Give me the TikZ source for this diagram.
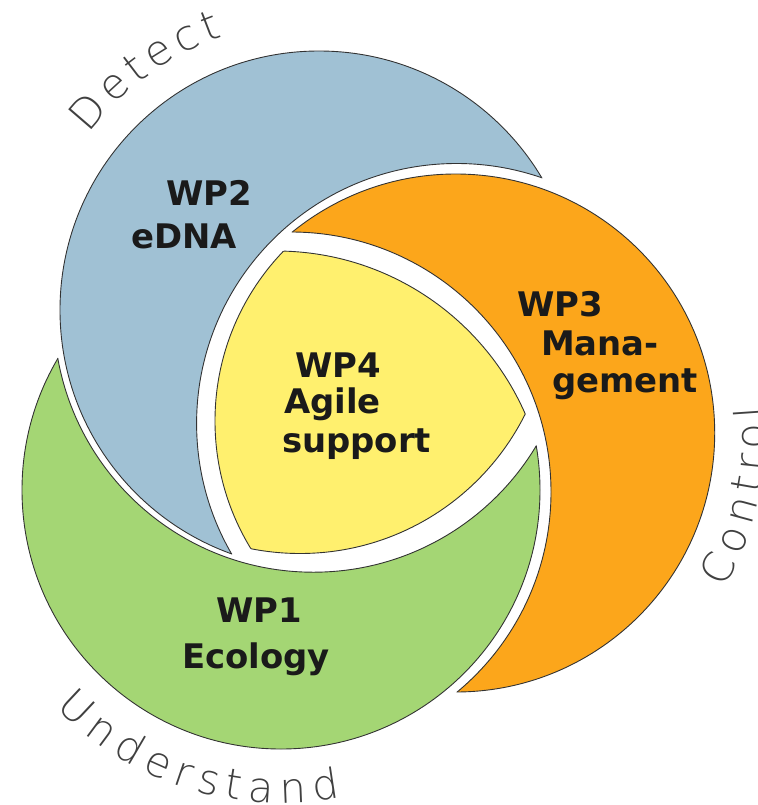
\documentclass[tikz,border=0pt]{standalone}
\usepackage{fontspec}
\setmainfont{DejaVu Sans}
\IfFontExistsTF{DejaVu Sans ExtraLight}{\newfontfamily\thinfont{DejaVu Sans ExtraLight}}{\newfontfamily\thinfont{DejaVu Sans}}
\usetikzlibrary{decorations.text}
\definecolor{edna}{HTML}{A0C1D4}
\definecolor{mgmt}{HTML}{FCA61B}
\definecolor{ecol}{HTML}{A4D674}
\definecolor{agile}{HTML}{FFF06E}
\definecolor{ink}{HTML}{1A1A1A}
\def\thinlbl{\thinfont\fontsize{42}{42}\selectfont}
% crescent: options, outer circle (centre:radius), cut circle (centre:radius)
\def\crescent[#1](#2:#3)(#4:#5){%
	\begin{scope}[even odd rule]
		\clip (-20,20) rectangle (780,-825) (#4) circle (#5);
		\draw[#1] (#2) circle (#3);
	\end{scope}
	\begin{scope}
		\clip (#2) circle (#3);
		\draw[#1, fill=none] (#4) circle (#5);
	\end{scope}}
% edge of the middle piece: circle drawn inside the two others
\def\lensedge(#1:#2)(#3:#4)(#5:#6){%
	\begin{scope}
		\clip (#3) circle (#4);
		\clip (#5) circle (#6);
		\draw[edge] (#1) circle (#2);
	\end{scope}}
\tikzset{
	edge/.style={draw=black!80, line width=0.9},
	wp/.style={font=\bfseries\fontsize{34}{40}\selectfont, text=ink, inner sep=0pt, anchor=base west}
}

\begin{document}
\begin{tikzpicture}[x=1bp, y=1bp]
			%%%%% START %%%%%
			\useasboundingbox (0,0) rectangle (758,-805);
			
			\coordinate (bo) at (319,-310);
			\coordinate (bi) at (456.6,-423.5);
			\coordinate (oo) at (455.7,-433);
			\coordinate (oi) at (291,-492);
			\coordinate (go) at (281,-490);
			\coordinate (gi) at (313.4,-312.6);
			\coordinate (yl) at (460,-421);
			\coordinate (yt) at (276,-523);
			\coordinate (yb) at (300,-302);
			
			% the three rings
			\crescent[edge, fill=edna](bo:259)(bi:260)
			\crescent[edge, fill=mgmt](oo:259)(oi:260)
			\crescent[edge, fill=ecol](go:259)(gi:259.6)
			
			% middle piece
			\begin{scope}
				\clip (yl) circle (245);
				\clip (yt) circle (272);
				\fill[agile] (yb) circle (251.5);
			\end{scope}
			\lensedge(yl:245)(yt:272)(yb:251.5)
			\lensedge(yt:272)(yl:245)(yb:251.5)
			\lensedge(yb:251.5)(yl:245)(yt:272)
			
			\node[wp] (wp2) at (166,-205) {WP2};
			\node[wp] (edna) at (131,-248) {eDNA};
			\node[wp] (wp3) at (517,-316) {WP3};
			\node[wp] (mana) at (541,-355) {Mana-};
			\node[wp] (gement) at (552,-392) {gement};
			\node[wp] (wp4) at (295,-377) {WP4};
			\node[wp] (agile) at (284,-413) {Agile};
			\node[wp] (support) at (282,-452) {support};
			\node[wp] (wp1) at (216,-622) {WP1};
			\node[wp] (ecology) at (182,-668) {Ecology};
			
			% words round the rings
			\path[decorate, decoration={text along path, text color=black!75, text align=fit to path, text={|\thinlbl|Detect}}]
				([shift={(bo)}]142.5:290) arc[start angle=142.5, end angle=109.4, radius=290];
			\path[decorate, decoration={text along path, text color=black!75, text align=fit to path, text={|\thinlbl|Control}}]
				([shift={(oo)}]-30:310) arc[start angle=-30, end angle=5, radius=310];
			\path[decorate, decoration={text along path, text color=black!75, text align=fit to path, text={|\thinlbl|Understand}}]
				([shift={(go)}]224:313) arc[start angle=224, end angle=281, radius=313];
			
			%%%%% END %%%%%
\end{tikzpicture}
\end{document}
